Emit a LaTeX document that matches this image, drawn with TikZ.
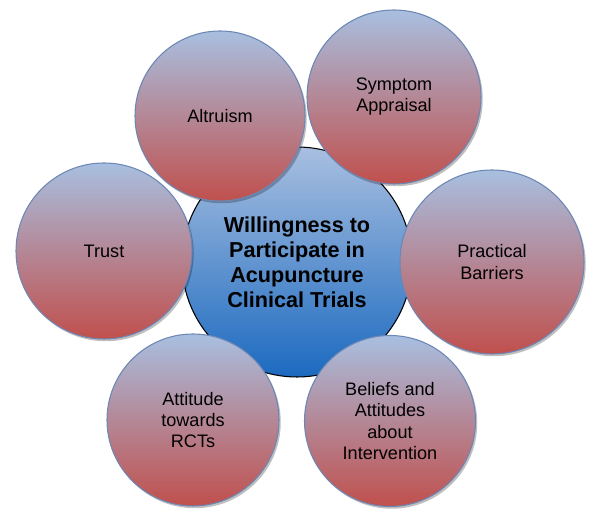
\documentclass[tikz,border=0pt]{standalone}
\usepackage{fontspec}
\setmainfont{Liberation Sans}
\usepackage{tikz}
\usetikzlibrary{shadows}

\definecolor{paleblue}{RGB}{168,191,224}
\definecolor{brickred}{RGB}{192,80,77}
\definecolor{deepblue}{RGB}{28,106,192}
\definecolor{rimblue}{RGB}{108,135,180}

\begin{document}
\begin{tikzpicture}[
    spoke/.style={circle, draw=rimblue, line width=0.6pt, top color=paleblue, bottom color=brickred,
      align=center, inner sep=0pt, font=\fontsize{10.3}{12}\selectfont,
      drop shadow={shadow xshift=0.35mm, shadow yshift=-0.45mm, fill=black, opacity=0.25}},
    hub/.style={circle, draw=black, line width=0.6pt, top color=paleblue, bottom color=deepblue,
      align=center, inner sep=0pt, minimum size=46mm, font=\bfseries\fontsize{12.3}{14.3}\selectfont},
  ]
    \useasboundingbox (0,0) rectangle (12,10.42);

    % centre
    \node[hub] (will) at (5.94,5.18) {Willingness to\\Participate in\\Acupuncture\\Clinical Trials};

    % factors round it
    \node[spoke, minimum size=34.0mm] (altr)  at (4.40,8.10) {Altruism};
    \node[spoke, minimum size=34.8mm] (symp)  at (7.88,8.48) {Symptom\\Appraisal};
    \node[spoke, minimum size=35.2mm] (trust) at (2.08,5.40) {Trust};
    \node[spoke, minimum size=36.8mm] (pract) at (9.84,5.18) {Practical\\Barriers};
    \node[spoke, minimum size=34.2mm] (belf)  at (7.80,2.00) {Beliefs and\\Attitudes\\about\\Intervention};
    \node[spoke, minimum size=34.4mm] (attd)  at (3.86,2.02) {Attitude\\towards\\RCTs};
  \end{tikzpicture}
\end{document}
